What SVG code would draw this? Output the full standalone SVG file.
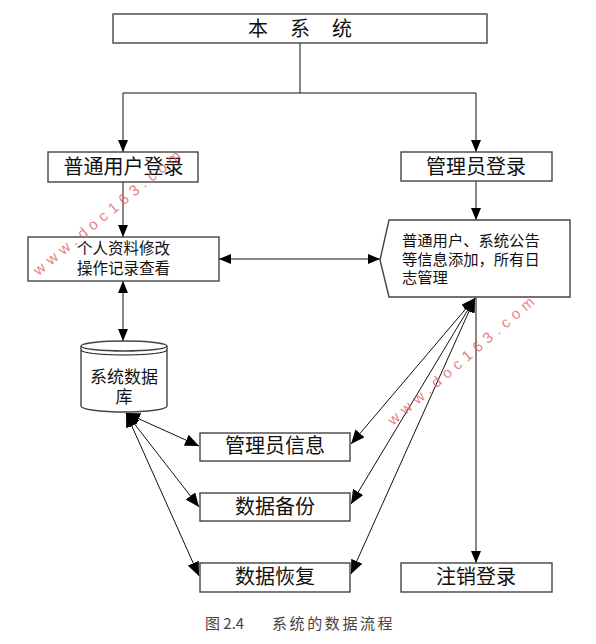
<svg xmlns="http://www.w3.org/2000/svg" width="596" height="644" viewBox="0 0 596 644">
<style>
.box{fill:#fff;stroke:#444;stroke-width:1.4}
.t{font-family:"Noto Sans CJK SC","Liberation Sans",sans-serif;fill:#111}
.t20{font-size:20px}
.t15{font-size:15.3px}
.t17{font-size:17px}
.c{text-anchor:middle}
.ln{fill:none;stroke:#111;stroke-width:1}
.wm{font-family:"Liberation Sans",sans-serif;font-size:15px;fill:#e06060;fill-opacity:0.8;text-anchor:middle}
</style>
<defs>
<marker id="ah" viewBox="0 0 12 10" refX="12" refY="5" markerWidth="12" markerHeight="10" orient="auto-start-reverse" markerUnits="userSpaceOnUse"><path d="M0,0 L12,5 L0,10 z" fill="#000"/></marker>
<marker id="ahb" viewBox="0 0 14 12" refX="14" refY="6" markerWidth="14" markerHeight="12" orient="auto-start-reverse" markerUnits="userSpaceOnUse"><path d="M0,0 L14,6 L0,12 z" fill="#000"/></marker>
</defs>
<rect width="596" height="644" fill="#fff"/>
<g id="connectors">
<path class="ln" d="M300,43 V93" stroke-width="1.6"/>
<path class="ln" d="M123,93 H476"/>
<path class="ln" d="M123,93 V152" marker-end="url(#ah)"/>
<path class="ln" d="M476,93 V152" marker-end="url(#ah)"/>
<path class="ln" d="M123,182 V237" marker-end="url(#ah)"/>
<path class="ln" d="M476,181 V220" marker-end="url(#ah)"/>
<path class="ln" d="M219,259 H380" marker-start="url(#ah)" marker-end="url(#ah)"/>
<path class="ln" d="M123,281 V341" marker-start="url(#ah)" marker-end="url(#ah)"/>
<path class="ln" d="M476,297 V563" marker-end="url(#ah)"/>
<path class="ln" d="M126,413 L199,446" marker-start="url(#ahb)" marker-end="url(#ahb)"/>
<path class="ln" d="M126,413 L199,507" marker-start="url(#ahb)" marker-end="url(#ahb)"/>
<path class="ln" d="M126,413 L199,576" marker-start="url(#ahb)" marker-end="url(#ahb)"/>
<path class="ln" d="M475,298 L351,444" marker-start="url(#ahb)" marker-end="url(#ahb)"/>
<path class="ln" d="M475,298 L351,504" marker-start="url(#ahb)" marker-end="url(#ahb)"/>
<path class="ln" d="M475,298 L351,574" marker-start="url(#ahb)" marker-end="url(#ahb)"/>
</g>
<g id="system">
<rect class="box" x="113" y="14" width="374" height="29"/>
<text class="t t20" y="35.5"><tspan x="248">本</tspan><tspan x="290">系</tspan><tspan x="332">统</tspan></text>
</g>
<g id="userLogin">
<rect class="box" x="48" y="152" width="150" height="30"/>
<text class="t t20 c" x="123.5" y="173.5">普通用户登录</text>
</g>
<g id="adminLogin">
<rect class="box" x="401" y="152" width="151" height="29"/>
<text class="t t20 c" x="476" y="173.5">管理员登录</text>
</g>
<g id="userFunc">
<rect class="box" x="28" y="237" width="191" height="44"/>
<text class="t c" style="font-size:15.5px"><tspan x="123.5" y="254">个人资料修改</tspan><tspan x="123.5" y="273.5">操作记录查看</tspan></text>
</g>
<g id="adminFunc">
<path class="box" d="M389,220 H570 V297 H389 L380,260 Z"/>
<text class="t t15"><tspan x="402" y="245.5">普通用户、系统公告</tspan><tspan x="402" y="264.5">等信息添加，所有日</tspan><tspan x="402" y="283">志管理</tspan></text>
</g>
<g id="database">
<path class="box" d="M81,346 V406 A43,6 0 0 0 167,406 V346"/>
<ellipse class="box" cx="124" cy="346" rx="43" ry="5"/>
<path class="ln" d="M81,350 A43,5 0 0 0 167,350" stroke="#444" stroke-width="1.2"/>
<text class="t t17 c"><tspan x="124" y="383">系统数据</tspan><tspan x="124" y="403">库</tspan></text>
</g>
<g id="adminInfo">
<rect class="box" x="200" y="433" width="150" height="28"/>
<text class="t t20 c" x="275" y="453">管理员信息</text>
</g>
<g id="backup">
<rect class="box" x="200" y="493" width="150" height="28"/>
<text class="t t20 c" x="275" y="514">数据备份</text>
</g>
<g id="restore">
<rect class="box" x="200" y="563" width="150" height="29"/>
<text class="t t20 c" x="275" y="584">数据恢复</text>
</g>
<g id="logout">
<rect class="box" x="401" y="563" width="151" height="29"/>
<text class="t t20 c" x="476" y="584">注销登录</text>
</g>
<text class="t" style="font-size:15px;fill:#444" y="629"><tspan x="205">图 2.4</tspan><tspan x="272" letter-spacing="2.6">系统的数据流程</tspan></text>
<text class="wm" x="107" y="218" textLength="186" lengthAdjust="spacing" transform="rotate(-39.6 107 213)">www.doc163.com</text>
<text class="wm" x="461" y="366" textLength="188" lengthAdjust="spacing" transform="rotate(-40.7 461 361)">www.doc163.com</text>
</svg>
